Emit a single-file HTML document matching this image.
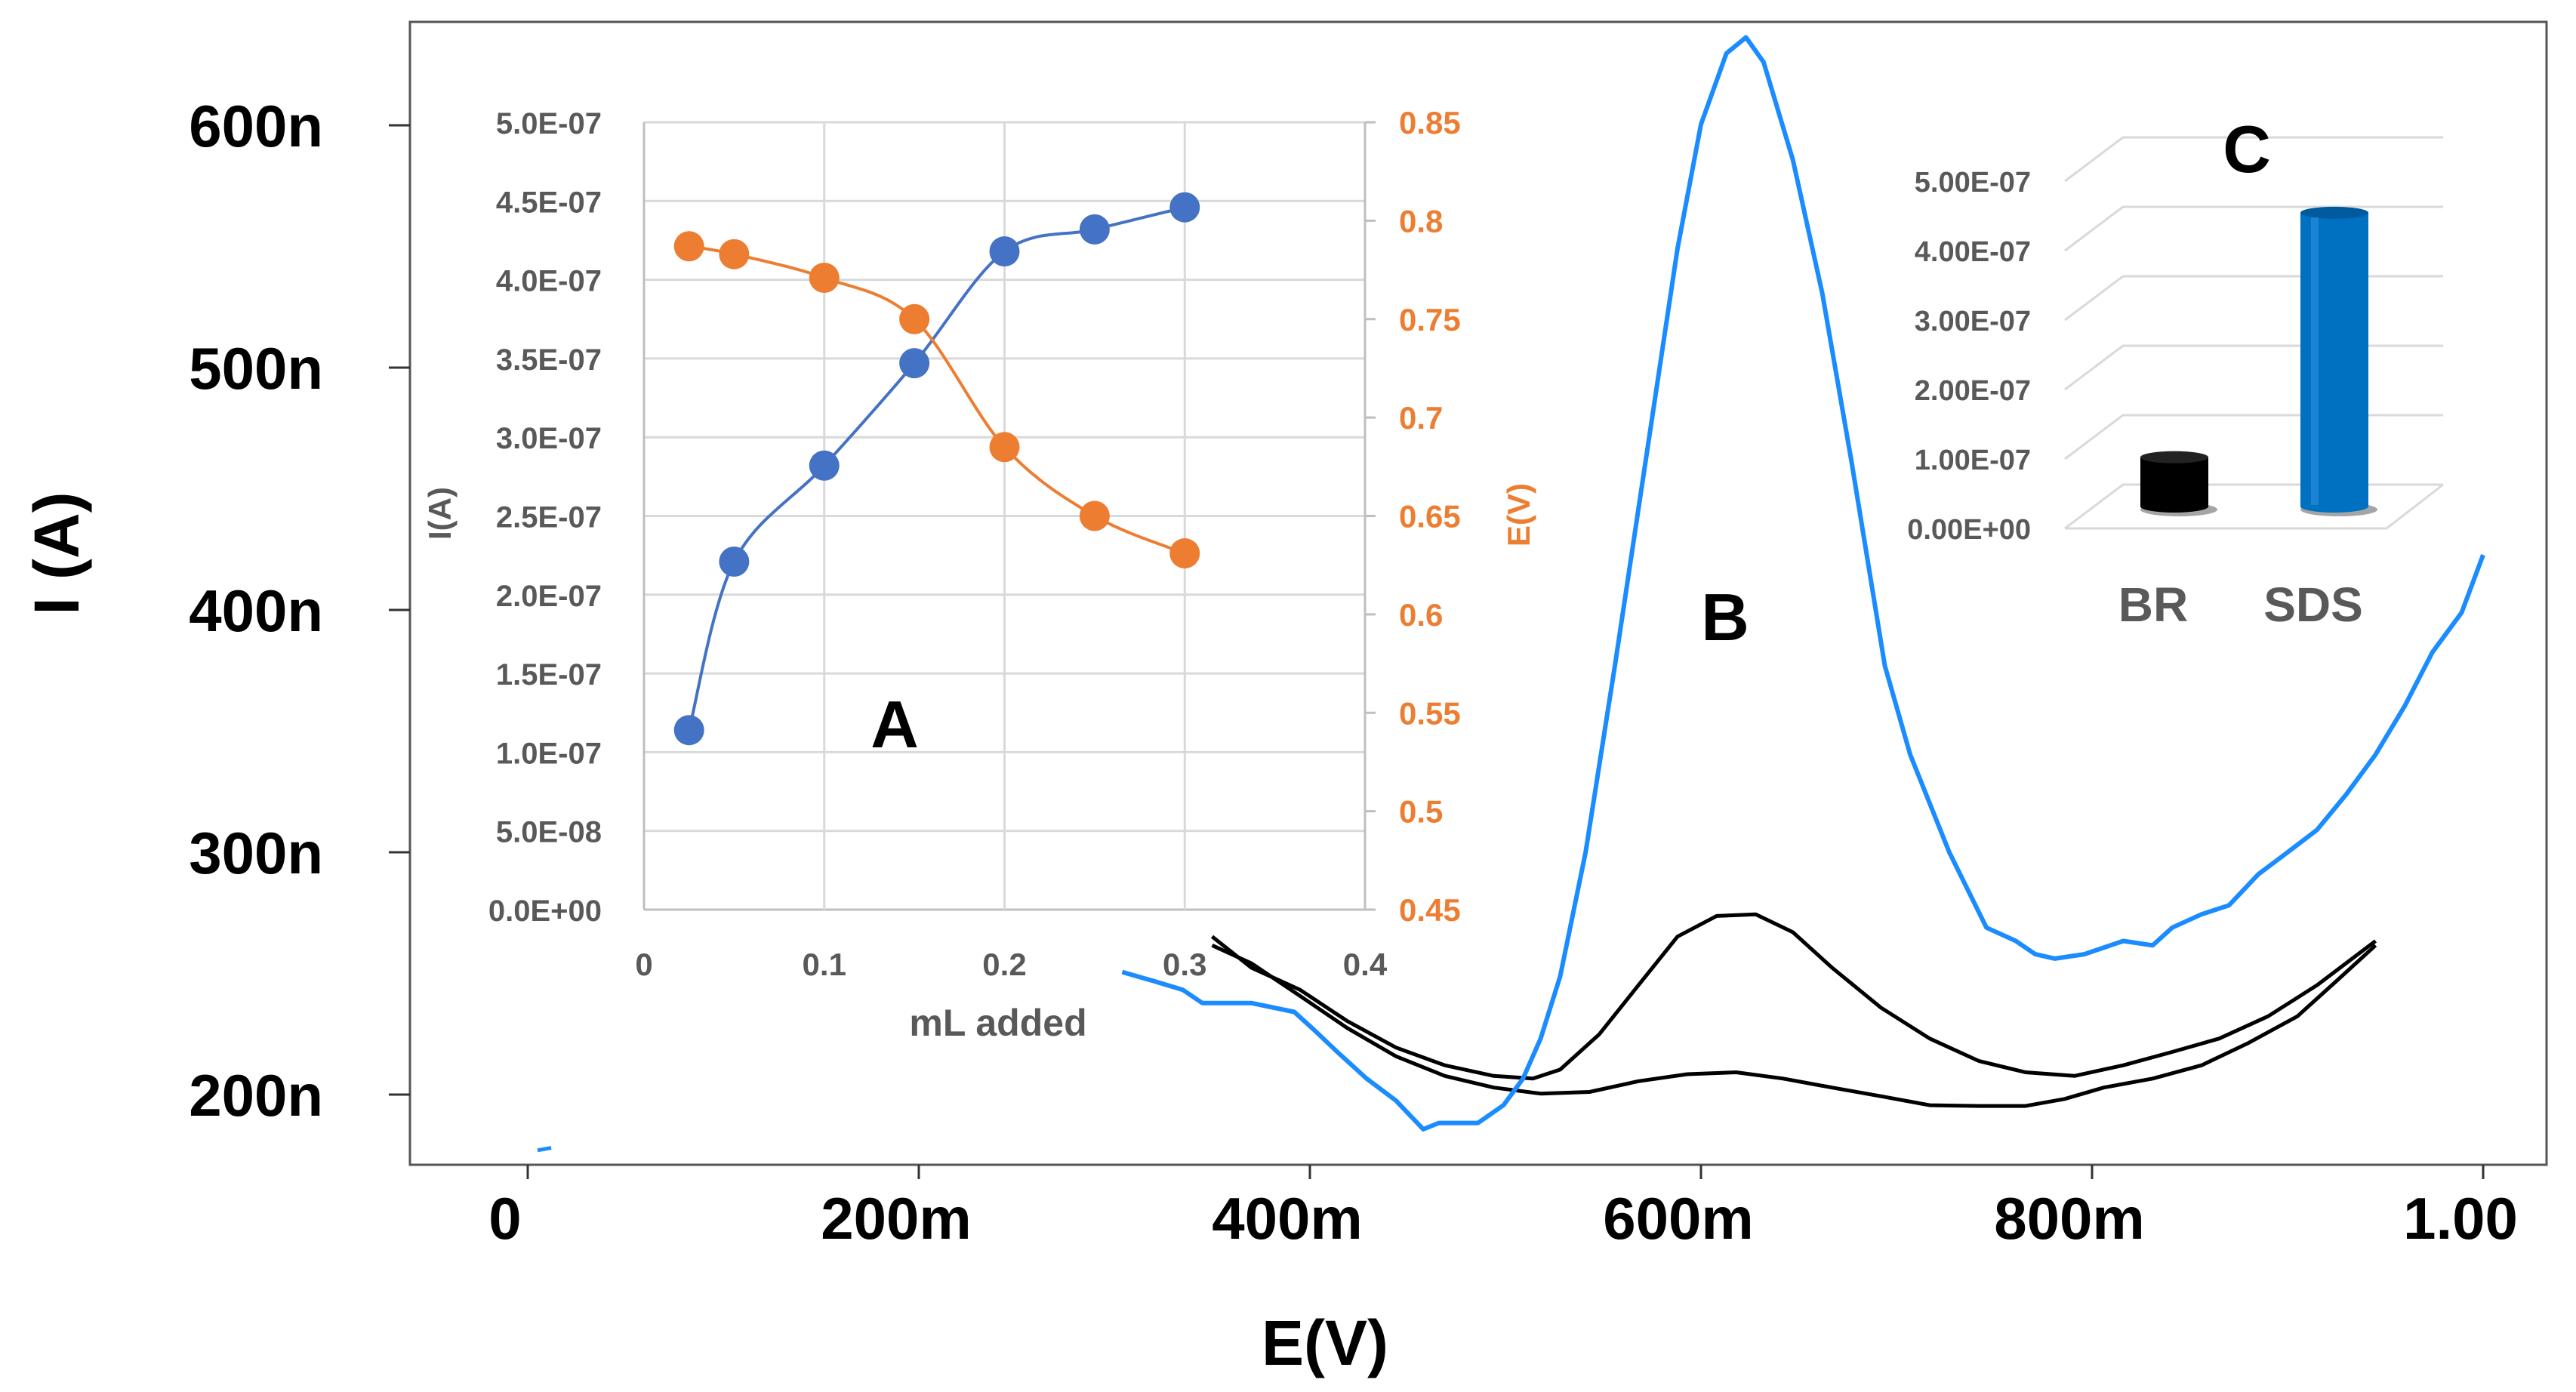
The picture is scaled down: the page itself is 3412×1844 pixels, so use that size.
<!DOCTYPE html>
<html><head><meta charset="utf-8"><style>
html,body{margin:0;padding:0;background:#fff;}
svg{display:block;font-family:"Liberation Sans",Arial,sans-serif;}
</style></head><body>
<svg id="chart" width="3412" height="1844" viewBox="0 0 3412 1844" xmlns="http://www.w3.org/2000/svg">
<rect x="0" y="0" width="3412" height="1844" fill="#fff"/>
<g id="main"></g>
<g id="insetA"></g>
<g id="insetC"></g>
</svg>
<script>
// ---------- Main chart data (B) ----------
const mainYTicks = [200, 300, 400, 500, 600];
const mainYTickLabels = ["200n", "300n", "400n", "500n", "600n"];
const mainXTicks = [0, 0.2, 0.4, 0.6, 0.8, 1.0];
const mainXTickLabels = ["0", "200m", "400m", "600m", "800m", "1.00"];
const blueE = [0.304,0.320,0.335,0.345,0.370,0.392,0.402,0.414,0.429,0.444,0.458,0.466,0.486,0.499,0.509,0.518,0.528,0.541,0.556,0.573,0.588,0.600,0.613,0.623,0.632,0.647,0.662,0.677,0.694,0.707,0.727,0.746,0.761,0.771,0.781,0.796,0.816,0.831,0.841,0.856,0.870,0.885,0.900,0.915,0.930,0.945,0.960,0.974,0.989,1.000];
const blueI = [250.6,246.9,243.2,237.8,237.8,234.1,226.8,217.6,206.6,197.5,185.7,188.3,188.3,195.6,206.6,223.1,248.8,300.0,377.0,468.5,549.1,600.4,629.7,636.3,626.1,585.8,530.8,461.2,377.0,340.3,300.0,268.9,263.4,257.9,256.1,257.9,263.4,261.6,268.9,274.4,278.1,290.9,300.0,309.2,323.9,340.3,360.5,382.5,398.9,422.7];
const blueFragE = [0.005, 0.012];
const blueFragI = [177, 178];
const black1E = [0.350,0.370,0.395,0.419,0.444,0.469,0.494,0.514,0.528,0.548,0.568,0.588,0.608,0.628,0.647,0.667,0.692,0.717,0.742,0.766,0.791,0.816,0.841,0.865,0.890,0.915,0.945];
const black1I = [265.2,252.4,243.2,230.4,219.4,212.1,207.7,206.6,210.3,224.9,245.1,265.2,273.7,274.4,267.0,252.4,235.9,223.1,213.9,209.2,207.7,212.1,217.6,223.1,232.3,245.1,263.4];
const black2E = [0.350,0.370,0.395,0.419,0.444,0.469,0.494,0.518,0.543,0.568,0.593,0.618,0.642,0.667,0.692,0.717,0.742,0.766,0.786,0.806,0.831,0.856,0.880,0.905,0.925,0.945];
const black2I = [261.6,254.2,240.7,227.5,215.8,207.7,202.9,200.4,201.1,205.5,208.4,209.2,206.6,202.9,199.3,195.6,195.3,195.3,198.2,202.9,206.6,212.1,221.3,232.3,246.9,261.6];

// ---------- Inset A data ----------
const aX = [0.025, 0.05, 0.1, 0.15, 0.2, 0.25, 0.3];
const aCurrent = [1.14e-7, 2.21e-7, 2.82e-7, 3.47e-7, 4.18e-7, 4.32e-7, 4.46e-7];
const aPotential = [0.787, 0.783, 0.771, 0.750, 0.685, 0.650, 0.631];
const aLeftTicks = [0,0.5e-7,1e-7,1.5e-7,2e-7,2.5e-7,3e-7,3.5e-7,4e-7,4.5e-7,5e-7];
const aLeftTickLabels = ["0.0E+00","5.0E-08","1.0E-07","1.5E-07","2.0E-07","2.5E-07","3.0E-07","3.5E-07","4.0E-07","4.5E-07","5.0E-07"];
const aRightTicks = [0.45,0.5,0.55,0.6,0.65,0.7,0.75,0.8,0.85];
const aRightTickLabels = ["0.45","0.5","0.55","0.6","0.65","0.7","0.75","0.8","0.85"];
const aXTicks = [0, 0.1, 0.2, 0.3, 0.4];
const aXTickLabels = ["0","0.1","0.2","0.3","0.4"];

// ---------- Inset C data ----------
const cCategories = ["BR", "SDS"];
const cValues = [0.71e-7, 4.23e-7];
const cTicks = [0, 1e-7, 2e-7, 3e-7, 4e-7, 5e-7];
const cTickLabels = ["0.00E+00","1.00E-07","2.00E-07","3.00E-07","4.00E-07","5.00E-07"];

const NS = "http://www.w3.org/2000/svg";
function mk(parent, tag, attrs, text) {
  const e = document.createElementNS(NS, tag);
  for (const k in attrs) e.setAttribute(k, attrs[k]);
  if (text !== undefined) e.textContent = text;
  parent.appendChild(e);
  return e;
}

// ===== Main chart =====
const main = document.getElementById('main');
const mx = v => 699 + v * 2590;
const my = v => 166 + (600 - v) * 3.21;
const frame = mk(main, 'rect', {x:543, y:29, width:2830, height:1514, fill:'none', stroke:'#555', 'stroke-width':3});


mainYTicks.forEach((v, i) => {
  const t = mk(main, 'line', {x1:515, x2:543, y1:my(v), y2:my(v), stroke:'#333', 'stroke-width':3});
  
  
  const l = mk(main, 'text', {x:428, y:my(v)+28, 'text-anchor':'end', 'font-size':78, 'font-weight':'bold', fill:'#000'}, mainYTickLabels[i]);
  
  
});
mainXTicks.forEach((v, i) => {
  const t = mk(main, 'line', {x1:mx(v), x2:mx(v), y1:1543, y2:1562, stroke:'#333', 'stroke-width':3});
  
  
  const l = mk(main, 'text', {x:mx(v)-30, y:1641, 'text-anchor':'middle', 'font-size':78, 'font-weight':'bold', fill:'#000'}, mainXTickLabels[i]);
  
  
});
const xt = mk(main, 'text', {x:1755, y:1808, 'text-anchor':'middle', 'font-size':84, 'font-weight':'bold', fill:'#000'}, 'E(V)');


const yt = mk(main, 'text', {x:0, y:0, 'text-anchor':'middle', 'font-size':84, 'font-weight':'bold', fill:'#000', transform:'translate(104,733) rotate(-90)'}, 'I (A)');



function polyPts(xs, ys, fx, fy) { return xs.map((x, i) => fx(x).toFixed(1) + ',' + fy(ys[i]).toFixed(1)).join(' '); }
const b1 = mk(main, 'polyline', {points:polyPts(black1E, black1I, mx, my), fill:'none', stroke:'#000', 'stroke-width':5, 'stroke-linejoin':'round'});


const b2 = mk(main, 'polyline', {points:polyPts(black2E, black2I, mx, my), fill:'none', stroke:'#000', 'stroke-width':5, 'stroke-linejoin':'round'});


const bl = mk(main, 'polyline', {points:polyPts(blueE, blueI, mx, my), fill:'none', stroke:'#1a8cff', 'stroke-width':6, 'stroke-linejoin':'round'});


const bf = mk(main, 'polyline', {points:polyPts(blueFragE, blueFragI, mx, my), fill:'none', stroke:'#1a8cff', 'stroke-width':5});


const lb = mk(main, 'text', {x:2285, y:848, 'text-anchor':'middle', 'font-size':88, 'font-weight':'bold', fill:'#000'}, 'B');



// ===== Inset A =====
const A = document.getElementById('insetA');
const aL = 853, aR = 1808, aT = 162, aB = 1205;
const ax = v => aL + v / 0.4 * (aR - aL);
const ayL = v => aB - v / 5e-7 * (aB - aT);
const ayR = v => aB - (v - 0.45) / 0.4 * (aB - aT);
aLeftTicks.forEach((v, i) => {
  const g = mk(A, 'line', {x1:aL, x2:aR, y1:ayL(v), y2:ayL(v), stroke: i===0 ? '#bfbfbf' : '#d9d9d9', 'stroke-width':3});
  
  
  const l = mk(A, 'text', {x:797, y:ayL(v)+15, 'text-anchor':'end', 'font-size':40, 'font-weight':'bold', fill:'#595959'}, aLeftTickLabels[i]);
  
  
});
aXTicks.forEach((v, i) => {
  const g = mk(A, 'line', {x1:ax(v), x2:ax(v), y1:aT, y2:aB, stroke: i===0 ? '#bfbfbf' : '#d9d9d9', 'stroke-width':3});
  
  
  const l = mk(A, 'text', {x:ax(v), y:1292, 'text-anchor':'middle', 'font-size':42, 'font-weight':'bold', fill:'#595959'}, aXTickLabels[i]);
  
  
});
mk(A, 'line', {x1:aR, x2:aR, y1:aT, y2:aB, stroke:'#bfbfbf', 'stroke-width':3});
aRightTicks.forEach((v, i) => {
  const t = mk(A, 'line', {x1:aR, x2:aR+14, y1:ayR(v), y2:ayR(v), stroke:'#bfbfbf', 'stroke-width':3});
  
  
  const l = mk(A, 'text', {x:1853, y:ayR(v)+15, 'text-anchor':'start', 'font-size':42, 'font-weight':'bold', fill:'#ed7d31'}, aRightTickLabels[i]);
  
  
});
const axt = mk(A, 'text', {x:1322, y:1372, 'text-anchor':'middle', 'font-size':50, 'font-weight':'bold', fill:'#595959'}, 'mL added');


const ayt = mk(A, 'text', {x:0, y:0, 'text-anchor':'middle', 'font-size':42, 'font-weight':'bold', fill:'#595959', transform:'translate(597,680) rotate(-90)'}, 'I(A)');


const ayt2 = mk(A, 'text', {x:0, y:0, 'text-anchor':'middle', 'font-size':42, 'font-weight':'bold', fill:'#ed7d31', transform:'translate(2026,682) rotate(-90)'}, 'E(V)');



function smooth(pts) {
  let d = 'M' + pts[0][0] + ',' + pts[0][1];
  for (let i = 0; i < pts.length - 1; i++) {
    const p0 = pts[i-1] || pts[i], p1 = pts[i], p2 = pts[i+1], p3 = pts[i+2] || p2;
    const c1 = [p1[0] + (p2[0]-p0[0])/6, p1[1] + (p2[1]-p0[1])/6];
    const c2 = [p2[0] - (p3[0]-p1[0])/6, p2[1] - (p3[1]-p1[1])/6];
    d += ' C' + c1.join(',') + ' ' + c2.join(',') + ' ' + p2.join(',');
  }
  return d;
}
const curPts = aX.map((x, i) => [ax(x), ayL(aCurrent[i])]);
const potPts = aX.map((x, i) => [ax(x), ayR(aPotential[i])]);
const cl = mk(A, 'path', {d:smooth(curPts), fill:'none', stroke:'#4472c4', 'stroke-width':4});


const pl = mk(A, 'path', {d:smooth(potPts), fill:'none', stroke:'#ed7d31', 'stroke-width':4});


curPts.forEach(p => {
  const c = mk(A, 'circle', {cx:p[0], cy:p[1], r:20, fill:'#4472c4'});
  
  
});
potPts.forEach(p => {
  const c = mk(A, 'circle', {cx:p[0], cy:p[1], r:20, fill:'#ed7d31'});
  
  
});
const la = mk(A, 'text', {x:1185, y:990, 'text-anchor':'middle', 'font-size':88, 'font-weight':'bold', fill:'#000'}, 'A');



// ===== Inset C =====
const C = document.getElementById('insetC');
const cFrontX = 2735, cBackX = 2812, cBackRight = 3236, cFrontRight = 3161, depth = 58;
const cyBack = v => 642 - v / 1e-7 * 92;
const cyMid = v => 671 - v / 1e-7 * 92;
cTicks.forEach((v, i) => {
  const by = cyBack(v);
  const g = mk(C, 'polyline', {points:`${cFrontX},${by+depth} ${cBackX},${by} ${cBackRight},${by}`, fill:'none', stroke:'#d9d9d9', 'stroke-width':3});
  
  
  const l = mk(C, 'text', {x:2690, y:by+depth+14, 'text-anchor':'end', 'font-size':38, 'font-weight':'bold', fill:'#595959'}, cTickLabels[i]);
  
  
});
mk(C, 'polyline', {points:`${cFrontX},${cyBack(0)+depth} ${cFrontRight},${cyBack(0)+depth} ${cBackRight},${cyBack(0)}`, fill:'none', stroke:'#d9d9d9', 'stroke-width':3});
const cCenters = [2880, 3092];
const cColors = [['#000','#222'], ['#0070c0','#005a9e']];
cValues.forEach((v, i) => {
  const cx = cCenters[i], w = 90, top = cyMid(v), bot = cyMid(0);
  const g = mk(C, 'g', {});
  
  
  mk(g, 'ellipse', {cx:cx+6, cy:bot+4, rx:w/2+6, ry:9, fill:'#7f7f7f', opacity:0.7});
  mk(g, 'rect', {x:cx-w/2, y:top, width:w, height:bot-top, fill:cColors[i][0]});
  mk(g, 'ellipse', {cx:cx, cy:bot, rx:w/2, ry:8, fill:cColors[i][0]});
  mk(g, 'ellipse', {cx:cx, cy:top, rx:w/2, ry:8, fill:cColors[i][1]});
  if (i === 1) mk(g, 'rect', {x:cx-w/2+14, y:top+6, width:10, height:bot-top-8, fill:'#2f8fe0', opacity:0.6});
  const l = mk(C, 'text', {x:cx-28, y:823, 'text-anchor':'middle', 'font-size':64, 'font-weight':'bold', fill:'#595959'}, cCategories[i]);
  
  
});
const lc = mk(C, 'text', {x:2976, y:228, 'text-anchor':'middle', 'font-size':88, 'font-weight':'bold', fill:'#000'}, 'C');


</script>
</body></html>
